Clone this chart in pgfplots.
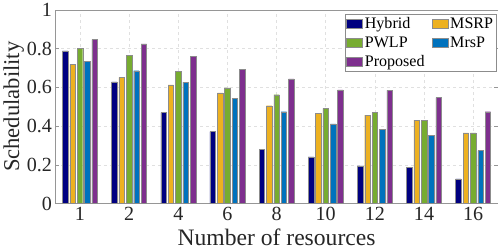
\documentclass[border=0pt]{standalone}
\usepackage{pgfplots}
\pgfplotsset{compat=1.18}
\usepackage{fontspec}
\setmainfont{Liberation Serif}
\definecolor{cHy}{RGB}{0,0,128}
\definecolor{cMS}{RGB}{237,177,32}
\definecolor{cPW}{RGB}{119,172,48}
\definecolor{cMr}{RGB}{0,114,189}
\definecolor{cPr}{RGB}{126,47,142}
\definecolor{axgray}{RGB}{150,150,150}
\begin{document}
\begin{tikzpicture}
\begin{axis}[
  scale only axis,
  width=439bp, height=192bp,
  ybar=1.8bp, bar width=5.5bp,
  xmin=-0.5, xmax=8.5, ymin=0, ymax=1,
  xtick=data,
  xticklabels={1,2,4,6,8,10,12,14,16},
  ytick={0,0.2,0.4,0.6,0.8,1},
  yticklabel={\pgfmathprintnumber[assume math mode=true]{\tick}},
  tick label style={font=\fontsize{20}{22}\selectfont, text=black!85},
  label style={text=black!85},
  xlabel={Number of resources},
  ylabel={Schedulability},
  ylabel style={yshift=-4bp, font=\fontsize{22.5}{24}\selectfont},
  xlabel style={yshift=-1bp, font=\fontsize{23.5}{25}\selectfont},
  axis line style={axgray},
  tick style={axgray, line width=0.5pt},
  major tick length=4bp,
  tick align=inside,
  xtick pos=bottom,
  ytick pos=both,
  grid=major,
  major grid style={dashed, black!12, line width=0.5pt},
  every axis plot/.append style={draw=black!45, line width=0.4pt},
  legend columns=2,
  legend cell align=left,
  legend style={at={(rel axis cs:0.998,0.98)}, anchor=north east,
    font=\fontsize{16}{18}\selectfont, draw=black!45, line width=0.5pt,
    inner sep=1.5bp, row sep=2.5bp,
    /tikz/every even column/.append style={column sep=5bp}},
  legend image code/.code={\draw[#1, draw=black!45] (0bp,-4.5bp) rectangle (16bp,4.5bp);},
]
\addplot[fill=cHy] coordinates {(0,0.788) (1,0.629) (2,0.470) (3,0.371) (4,0.278) (5,0.241) (6,0.194) (7,0.186) (8,0.127)};
\addplot[fill=cMS] coordinates {(0,0.719) (1,0.651) (2,0.613) (3,0.571) (4,0.505) (5,0.467) (6,0.457) (7,0.431) (8,0.365)};
\addplot[fill=cPW] coordinates {(0,0.800) (1,0.764) (2,0.681) (3,0.597) (4,0.562) (5,0.491) (6,0.472) (7,0.431) (8,0.365)};
\addplot[fill=cMr] coordinates {(0,0.733) (1,0.686) (2,0.627) (3,0.542) (4,0.474) (5,0.411) (6,0.384) (7,0.351) (8,0.273)};
\addplot[fill=cPr] coordinates {(0,0.847) (1,0.825) (2,0.759) (3,0.693) (4,0.644) (5,0.587) (6,0.585) (7,0.547) (8,0.474)};
\legend{Hybrid,MSRP,PWLP,MrsP,Proposed}
\end{axis}
\end{tikzpicture}
\end{document}
